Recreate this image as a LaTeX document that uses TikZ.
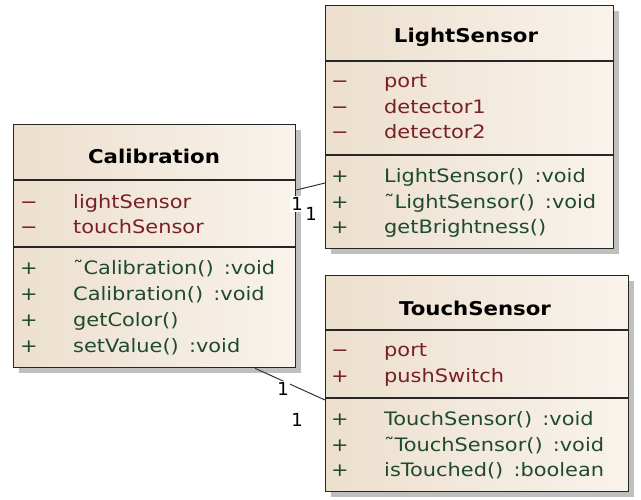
\documentclass[tikz,border=0pt]{standalone}
\usepackage{fontspec}
\setmainfont{DejaVu Sans}
\usetikzlibrary{shadows}
\definecolor{attrcol}{HTML}{7A1F24}
\definecolor{opercol}{HTML}{1E4A30}
\definecolor{boxdark}{HTML}{ECDFCD}
\definecolor{boxlight}{HTML}{F9F3EC}
\newcommand{\rowfont}{\fontsize{18.5}{18.5}\selectfont\addfontfeature{FakeStretch=1.13}}
\newcommand{\namefont}{\fontsize{19}{19}\selectfont\bfseries\addfontfeature{FakeStretch=1.12}}
\newcommand{\rtype}{\hspace{0.55em}}
\tikzset{
  classbox/.style={rectangle, draw=black!85, line width=1.3pt, inner sep=0pt,
    anchor=north west, left color=boxdark, right color=boxlight,
    drop shadow={shadow xshift=5pt, shadow yshift=-5pt, fill=black, opacity=0.25}},
  sepline/.style={draw=black!85, line width=1.3pt},
  classname/.style={font=\namefont, text=black, inner sep=0pt},
  attrtxt/.style={font=\rowfont, text=attrcol, anchor=base west, inner sep=0pt},
  opertxt/.style={font=\rowfont, text=opercol, anchor=base west, inner sep=0pt},
  vis/.style={font=\rowfont, anchor=base, inner sep=0pt},
  assoc/.style={draw=black!80, line width=1pt},
  mult/.style={font=\fontsize{18}{18}\selectfont, fill=white, inner sep=1pt}
}
\begin{document}
\begin{tikzpicture}[x=1pt, y=-1pt]
\useasboundingbox (0,0) rectangle (641,499);

% ---------------- Calibration ----------------
\node[classbox, minimum width=282pt, minimum height=243pt] (cal) at (13,124) {};
\node[classname] (calname) at (154,156) {Calibration};
\draw[sepline] (cal.west |- 0,180) -- (cal.east |- 0,180);
\draw[sepline] (cal.west |- 0,247) -- (cal.east |- 0,247);
\node[vis, text=attrcol] (calv1) at (29,208) {−};
\node[attrtxt] (cala1) at (73,208) {lightSensor};
\node[vis, text=attrcol] (calv2) at (29,233) {−};
\node[attrtxt] (cala2) at (73,233) {touchSensor};
\node[vis, text=opercol] (calv3) at (29,274) {+};
\node[opertxt] (calo1) at (73,274) {˜Calibration()\rtype:void};
\node[vis, text=opercol] (calv4) at (29,300) {+};
\node[opertxt] (calo2) at (73,300) {Calibration()\rtype:void};
\node[vis, text=opercol] (calv5) at (29,326) {+};
\node[opertxt] (calo3) at (73,326) {getColor()};
\node[vis, text=opercol] (calv6) at (29,352) {+};
\node[opertxt] (calo4) at (73,352) {setValue()\rtype:void};

% ---------------- LightSensor ----------------
\node[classbox, minimum width=288pt, minimum height=243pt] (ls) at (325,5) {};
\node[classname] (lsname) at (466,37) {LightSensor};
\draw[sepline] (ls.west |- 0,61) -- (ls.east |- 0,61);
\draw[sepline] (ls.west |- 0,155) -- (ls.east |- 0,155);
\node[vis, text=attrcol] (lsv1) at (340,87) {−};
\node[attrtxt] (lsa1) at (384,87) {port};
\node[vis, text=attrcol] (lsv2) at (340,113) {−};
\node[attrtxt] (lsa2) at (384,113) {detector1};
\node[vis, text=attrcol] (lsv3) at (340,138) {−};
\node[attrtxt] (lsa3) at (384,138) {detector2};
\node[vis, text=opercol] (lsv4) at (340,182) {+};
\node[opertxt] (lso1) at (384,182) {LightSensor()\rtype:void};
\node[vis, text=opercol] (lsv5) at (340,208) {+};
\node[opertxt] (lso2) at (384,208) {˜LightSensor()\rtype:void};
\node[vis, text=opercol] (lsv6) at (340,233) {+};
\node[opertxt] (lso3) at (384,233) {getBrightness()};

% ---------------- TouchSensor ----------------
\node[classbox, minimum width=303pt, minimum height=216pt] (ts) at (325,275) {};
\node[classname] (tsname) at (475,308) {TouchSensor};
\draw[sepline] (ts.west |- 0,330) -- (ts.east |- 0,330);
\draw[sepline] (ts.west |- 0,398) -- (ts.east |- 0,398);
\node[vis, text=attrcol] (tsv1) at (340,356) {−};
\node[attrtxt] (tsa1) at (384,356) {port};
\node[vis, text=attrcol] (tsv2) at (340,382) {+};
\node[attrtxt] (tsa2) at (384,382) {pushSwitch};
\node[vis, text=opercol] (tsv3) at (340,425) {+};
\node[opertxt] (tso1) at (384,425) {TouchSensor()\rtype:void};
\node[vis, text=opercol] (tsv4) at (340,451) {+};
\node[opertxt] (tso2) at (384,451) {˜TouchSensor()\rtype:void};
\node[vis, text=opercol] (tsv5) at (340,476) {+};
\node[opertxt] (tso3) at (384,476) {isTouched()\rtype:boolean};

% ---------------- associations ----------------
\draw[assoc] (cal.east |- 0,190) -- (ls.west |- 0,183);
\node[mult] (m1) at (297,204) {1};
\node[mult] (m2) at (311,214) {1};

\draw[assoc] (cal.south -| 255,0) -- (ts.west |- 0,400);
\node[mult] (m3) at (283,389) {1};
\node[mult] (m4) at (297,420) {1};
\end{tikzpicture}
\end{document}
